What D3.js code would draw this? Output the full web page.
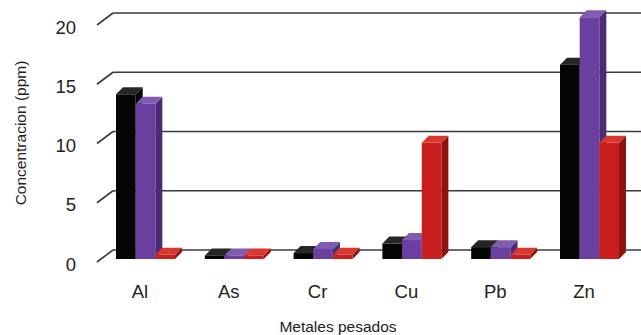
<!DOCTYPE html>
<html>
<head>
<meta charset="utf-8">
<script src="https://cdn.jsdelivr.net/npm/d3@7"></script>
<style>
  html, body { margin: 0; padding: 0; background: #fff; }
  svg { display: block; }
  text { font-family: "Liberation Sans", Arial, sans-serif; fill: #222; }
</style>
</head>
<body>
<svg id="chart" width="641" height="335"></svg>
<script>
const categories = ["Al", "As", "Cr", "Cu", "Pb", "Zn"];
const seriesBlack  = [13.9, 0.3, 0.5, 1.3, 1.0, 16.4];
const seriesPurple = [13.1, 0.3, 0.85, 1.6, 1.0, 20.4];
const seriesRed    = [0.35, 0.3, 0.35, 9.8, 0.35, 9.8];
const yTicks = [0, 5, 10, 15, 20];
const yTitle = "Concentracion (ppm)";
const xTitle = "Metales pesados";

const seriesList = [seriesBlack, seriesPurple, seriesRed];
const colors = [
  { front: "#050505", side: "#000000", top: "#262626" },
  { front: "#6b3fa0", side: "#4b2b74", top: "#7f5cb0" },
  { front: "#c81f1e", side: "#8e1412", top: "#d8392f" }
];

const W = 641, H = 335;
const svg = d3.select("#chart");

const y = d3.scaleLinear().domain([0, 20]).range([262, 25]);
const x = d3.scaleBand().domain(categories).range([95.6, 628.4]);
const xSub = d3.scaleBand().domain(d3.range(seriesList.length)).range([0, 59]);

const wallDx = 16, wallDy = -12;   // back-wall offset
const barDx = 7, barDy = -7;       // bar depth
const barShiftX = -24, barShiftY = -3; // bar front plane offset from axis

// Gridlines (back wall) + diagonal tick connectors
const grid = svg.append("g");
yTicks.forEach(t => {
  const yy = y(t);
  grid.append("line")
    .attr("x1", x.range()[0] + 1.4).attr("y1", yy)
    .attr("x2", x.range()[0] + 1.4 + wallDx).attr("y2", yy + wallDy)
    .attr("stroke", "#3a3a3a").attr("stroke-width", 1.6);
  grid.append("line")
    .attr("x1", x.range()[0] + 1.4 + wallDx).attr("y1", yy + wallDy)
    .attr("x2", W).attr("y2", yy + wallDy)
    .attr("stroke", "#3a3a3a").attr("stroke-width", 1.6);
});

// Y tick labels
svg.append("g").selectAll("text").data(yTicks).join("text")
  .attr("x", 76).attr("y", d => y(d) + 2)
  .attr("text-anchor", "end").attr("dominant-baseline", "central")
  .attr("font-size", 18.5)
  .text(d => d);

// Bars (3D)
const barsG = svg.append("g");
categories.forEach((c, i) => {
  seriesList.forEach((s, k) => {
    const v = s[i];
    const x0 = x(c) + x.bandwidth() / 2 + barShiftX + xSub(k);
    const x1 = x0 + xSub.bandwidth();
    const yb = y(0) + barShiftY;
    const yt = y(v) + barShiftY;
    const col = colors[k];
    barsG.append("path")
      .attr("d", `M${x1},${yb}L${x1 + barDx},${yb + barDy}L${x1 + barDx},${yt + barDy}L${x1},${yt}Z`)
      .attr("fill", col.side);
    barsG.append("path")
      .attr("d", `M${x0},${yt}L${x1},${yt}L${x1 + barDx},${yt + barDy}L${x0 + barDx},${yt + barDy}Z`)
      .attr("fill", col.top);
    barsG.append("rect")
      .attr("x", x0).attr("y", yt)
      .attr("width", x1 - x0).attr("height", Math.max(0, yb - yt))
      .attr("fill", col.front);
  });
});

// Category labels
svg.append("g").selectAll("text").data(categories).join("text")
  .attr("x", d => x(d) + x.bandwidth() / 2)
  .attr("y", 298)
  .attr("text-anchor", "middle")
  .attr("font-size", 18.5)
  .text(d => d);

// Axis titles
svg.append("text")
  .attr("transform", "translate(26,133) rotate(-90)")
  .attr("text-anchor", "middle")
  .attr("font-size", 15.5)
  .text(yTitle);

svg.append("text")
  .attr("x", 338).attr("y", 332)
  .attr("text-anchor", "middle")
  .attr("font-size", 15.5)
  .text(xTitle);
</script>
</body>
</html>
